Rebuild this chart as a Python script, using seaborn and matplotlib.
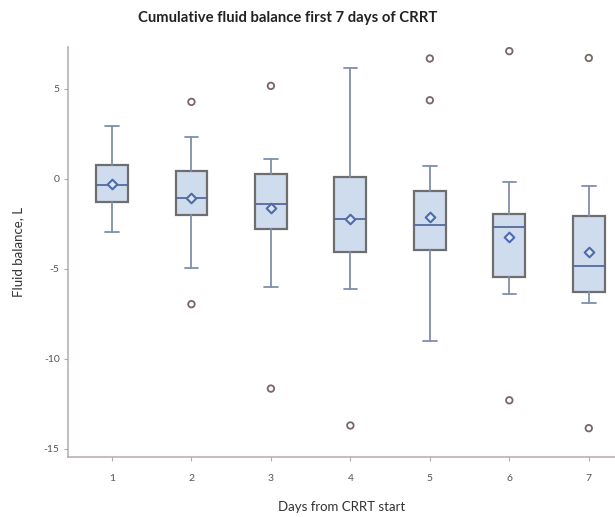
import numpy as np
import pandas as pd
import matplotlib
matplotlib.use('Agg')
import matplotlib.pyplot as plt
import seaborn as sns

# Valores (litros)
days = [1, 2, 3, 4, 5, 6, 7]
q1 = [-1.28, -2.00, -2.80, -4.07, -3.96, -5.43, -6.30]
median = [-0.32, -1.04, -1.41, -2.24, -2.57, -2.65, -4.83]
q3 = [0.78, 0.44, 0.28, 0.13, -0.65, -1.96, -2.06]
whisker_low = [-2.94, -4.96, -5.98, -6.11, -9.00, -6.39, -6.87]
whisker_high = [2.94, 2.31, 1.09, 6.18, 0.72, -0.15, -0.37]
means = [-0.30, -1.04, -1.63, -2.24, -2.13, -3.20, -4.04]

outlier_day = [2, 2, 3, 3, 4, 5, 5, 6, 6, 7, 7]
outlier_val = [4.28, -6.96, 5.17, -11.65, -13.7, 6.69, 4.37, 7.10, -12.3, 6.72, -13.85]

sns.set_style('white')
plt.rcParams['font.family'] = ['Lato', 'DejaVu Sans']

fig = plt.figure(figsize=(6.15, 5.17), dpi=100)
ax = fig.add_axes([0.1106, 0.1161, 0.8894, 0.7930])

# Caixas a partir das estatísticas
stats = []
for i in range(len(days)):
    stats.append({'med': median[i], 'q1': q1[i], 'q3': q3[i],
                  'whislo': whisker_low[i], 'whishi': whisker_high[i],
                  'fliers': []})

ax.bxp(stats, positions=days, widths=0.4, showfliers=False,
       patch_artist=True,
       boxprops=dict(facecolor='#cfdcee', edgecolor='#6e6e6e', linewidth=1.6),
       medianprops=dict(color='#56699a', linewidth=1.3),
       whiskerprops=dict(color='#7f8fae', linewidth=1.3),
       capprops=dict(color='#7f8fae', linewidth=1.3),
       capwidths=0.17, zorder=2)

# Médias e valores extremos
mean_df = pd.DataFrame({'day': days, 'mean': means})
out_df = pd.DataFrame({'day': outlier_day, 'value': outlier_val})
sns.scatterplot(data=mean_df, x='day', y='mean', marker='D', s=24,
                facecolor='#dde6f4', edgecolor='#4f6bb0', linewidth=1.5,
                ax=ax, zorder=3)
sns.scatterplot(data=out_df, x='day', y='value', marker='o', s=22,
                facecolor='none', edgecolor='#7a6565', linewidth=1.3,
                ax=ax, zorder=3)

ax.set_xlim(0.447, 7.33)
ax.set_ylim(-15.45, 7.33)
ax.set_xticks(days)
ax.set_xticklabels([str(d) for d in days])
ax.set_yticks([5, 0, -5, -10, -15])
ax.set_yticklabels(['5', '0', '-5', '-10', '-15'])
ax.tick_params(axis='both', labelsize=7.5, colors='#b5aaaa', labelcolor='#555555',
               length=3, width=0.8, direction='out')
ax.tick_params(axis='x', pad=9)
ax.tick_params(axis='y', pad=3)
ax.tick_params(left=True, bottom=True)

for side in ['top', 'right']:
    ax.spines[side].set_visible(False)
for side in ['left', 'bottom']:
    ax.spines[side].set_color('#b5aaaa')
    ax.spines[side].set_linewidth(1.1)

ax.set_xlabel('Days from CRRT start', fontsize=9.5, color='#333333', labelpad=13)
ax.set_ylabel('Fluid balance, L', fontsize=9.5, color='#333333', labelpad=14)
fig.text(288 / 615, 1 - 18 / 517, 'Cumulative fluid balance first 7 days of CRRT',
         ha='center', va='center', fontsize=10.7, fontweight='bold', color='#222222')

fig.savefig('out.png', dpi=100)
plt.close()
